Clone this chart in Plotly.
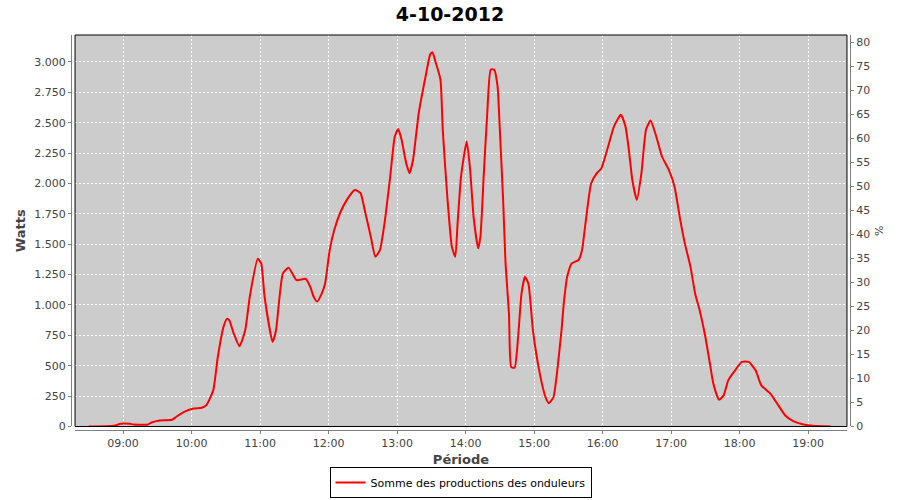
import plotly.graph_objects as go

times = ["08:30", "08:52", "08:58", "09:06", "09:09", "09:22", "09:25", "09:32", "09:43", "09:47",
         "09:55", "10:02", "10:09", "10:13", "10:19", "10:23", "10:28", "10:31", "10:33", "10:37",
         "10:42", "10:47", "10:51", "10:58", "11:01", "11:04", "11:11", "11:14", "11:20", "11:25",
         "11:32", "11:40", "11:44", "11:47", "11:50", "11:54", "11:57", "12:01", "12:05", "12:10",
         "12:16", "12:23", "12:28", "12:32", "12:37", "12:41", "12:45", "12:49", "12:54", "12:58",
         "13:01", "13:04", "13:08", "13:11", "13:14", "13:19", "13:25", "13:29", "13:31", "13:34",
         "13:38", "13:40", "13:44", "13:48", "13:51", "13:53", "13:56", "14:01", "14:04", "14:07",
         "14:11", "14:13", "14:16", "14:19", "14:22", "14:25", "14:28", "14:30", "14:33", "14:35",
         "14:38", "14:40", "14:43", "14:46", "14:49", "14:52", "14:55", "14:59", "15:05", "15:10",
         "15:13", "15:17", "15:20", "15:24", "15:26", "15:29", "15:33", "15:39", "15:42", "15:45",
         "15:48", "15:50", "15:55", "15:59", "16:04", "16:10", "16:16", "16:20", "16:23", "16:26",
         "16:30", "16:34", "16:38", "16:42", "16:47", "16:52", "16:58", "17:03", "17:08", "17:12",
         "17:17", "17:21", "17:25", "17:30", "17:34", "17:37", "17:42", "17:46", "17:50", "17:56",
         "18:02", "18:08", "18:14", "18:19", "18:27", "18:32", "18:40", "18:47", "18:56", "19:04",
         "19:20"]
watts = [0, 6, 22, 22, 17, 17, 33, 50, 55, 82,
         126, 148, 154, 176, 297, 572, 820, 886, 875, 765,
         660, 792, 1067, 1380, 1342, 1067, 696, 792, 1260, 1306,
         1204, 1215, 1149, 1067, 1028, 1094, 1177, 1452, 1617, 1755,
         1865, 1947, 1920, 1768, 1562, 1397, 1452, 1672, 2057, 2387,
         2448, 2360, 2167, 2085, 2195, 2580, 2882, 3061, 3080, 2992,
         2855, 2442, 1892, 1479, 1397, 1672, 2057, 2346, 2112, 1727,
         1466, 1562, 2085, 2580, 2937, 2937, 2800, 2442, 1837, 1342,
         930, 489, 484, 737, 1095, 1232, 1177, 792, 435, 242,
         192, 242, 435, 792, 1012, 1232, 1342, 1370, 1452, 1672,
         1892, 2002, 2085, 2126, 2277, 2470, 2566, 2470, 2277, 2030,
         1865, 2085, 2442, 2519, 2387, 2222, 2112, 1974, 1700, 1507,
         1314, 1095, 957, 737, 517, 352, 220, 256, 380, 462,
         531, 531, 462, 338, 270, 201, 91, 44, 16, 6,
         0]

day = "2012-10-04"
x_vals = [f"{day} {t}" for t in times]

FONT = "DejaVu Sans"
GRAY = "#444444"

fig = go.Figure()
fig.add_trace(go.Scatter(
    x=x_vals, y=watts, mode="lines",
    name="Somme des productions des onduleurs",
    line=dict(color="#FF0000", width=2, shape="spline", smoothing=0.5),
))
# invisible trace to keep secondary axis rendered
fig.add_trace(go.Scatter(x=[x_vals[0]], y=[0], yaxis="y2", mode="markers",
                         marker=dict(opacity=0), showlegend=False, hoverinfo="skip"))

fig.update_layout(
    width=900, height=500,
    margin=dict(l=71, r=50, t=35, b=70, autoexpand=False),
    paper_bgcolor="white",
    plot_bgcolor="#CCCCCC",
    separators=",.",
    font=dict(family=FONT, size=11, color=GRAY),
    title=dict(text="<b>4-10-2012</b>", x=0.5, xanchor="center", y=0.972, yanchor="middle",
               font=dict(family=FONT, size=19, color="black")),
    xaxis=dict(
        type="date",
        domain=[0.0052, 0.9961],
        range=[f"{day} 08:18", f"{day} 19:34"],
        dtick=3600000, tickformat="%H:%M",
        tick0=f"{day} 09:00",
        anchor="free", position=0, automargin=False,
        showline=True, linecolor="#808080", linewidth=1,
        ticks="outside", ticklen=3, tickcolor="#808080",
        showgrid=True, gridcolor="white", gridwidth=1, griddash="2px,2px",
        zeroline=False,
        title=dict(text="<b>Période</b>", font=dict(family=FONT, size=13, color=GRAY), standoff=6),
    ),
    yaxis=dict(
        domain=[0.0089, 1.0],
        range=[0, 3222],
        dtick=250, tickformat=",d",
        anchor="free", position=0, automargin=False,
        showline=True, linecolor="#808080", linewidth=1,
        ticks="outside", ticklen=3, tickcolor="#808080",
        showgrid=True, gridcolor="white", gridwidth=1, griddash="2px,2px",
        zeroline=False,
        title=dict(text="<b>Watts</b>", font=dict(family=FONT, size=13, color=GRAY), standoff=4),
    ),
    yaxis2=dict(
        overlaying="y", side="right",
        range=[0, 81.46], dtick=5,
        anchor="free", position=1, automargin=False,
        showline=True, linecolor="#808080", linewidth=1,
        ticks="outside", ticklen=3, tickcolor="#808080",
        showgrid=False, zeroline=False,
        title=dict(text="%", font=dict(family=FONT, size=11, color=GRAY), standoff=6),
    ),
    legend=dict(
        orientation="h", x=0.5, xanchor="center",
        yref="container", y=0.004, yanchor="bottom",
        itemwidth=30, tracegroupgap=0,
        bordercolor="black", borderwidth=1, bgcolor="white",
        font=dict(family=FONT, size=11, color="black"),
    ),
    shapes=[dict(type="rect", xref="x domain", yref="y domain", x0=0, x1=1, y0=0, y1=1,
                 line=dict(color="black", width=1), fillcolor="rgba(0,0,0,0)", layer="above")],
)

fig.write_html("out.html", config={"displayModeBar": False},
               post_script="document.body.style.margin='0';")
